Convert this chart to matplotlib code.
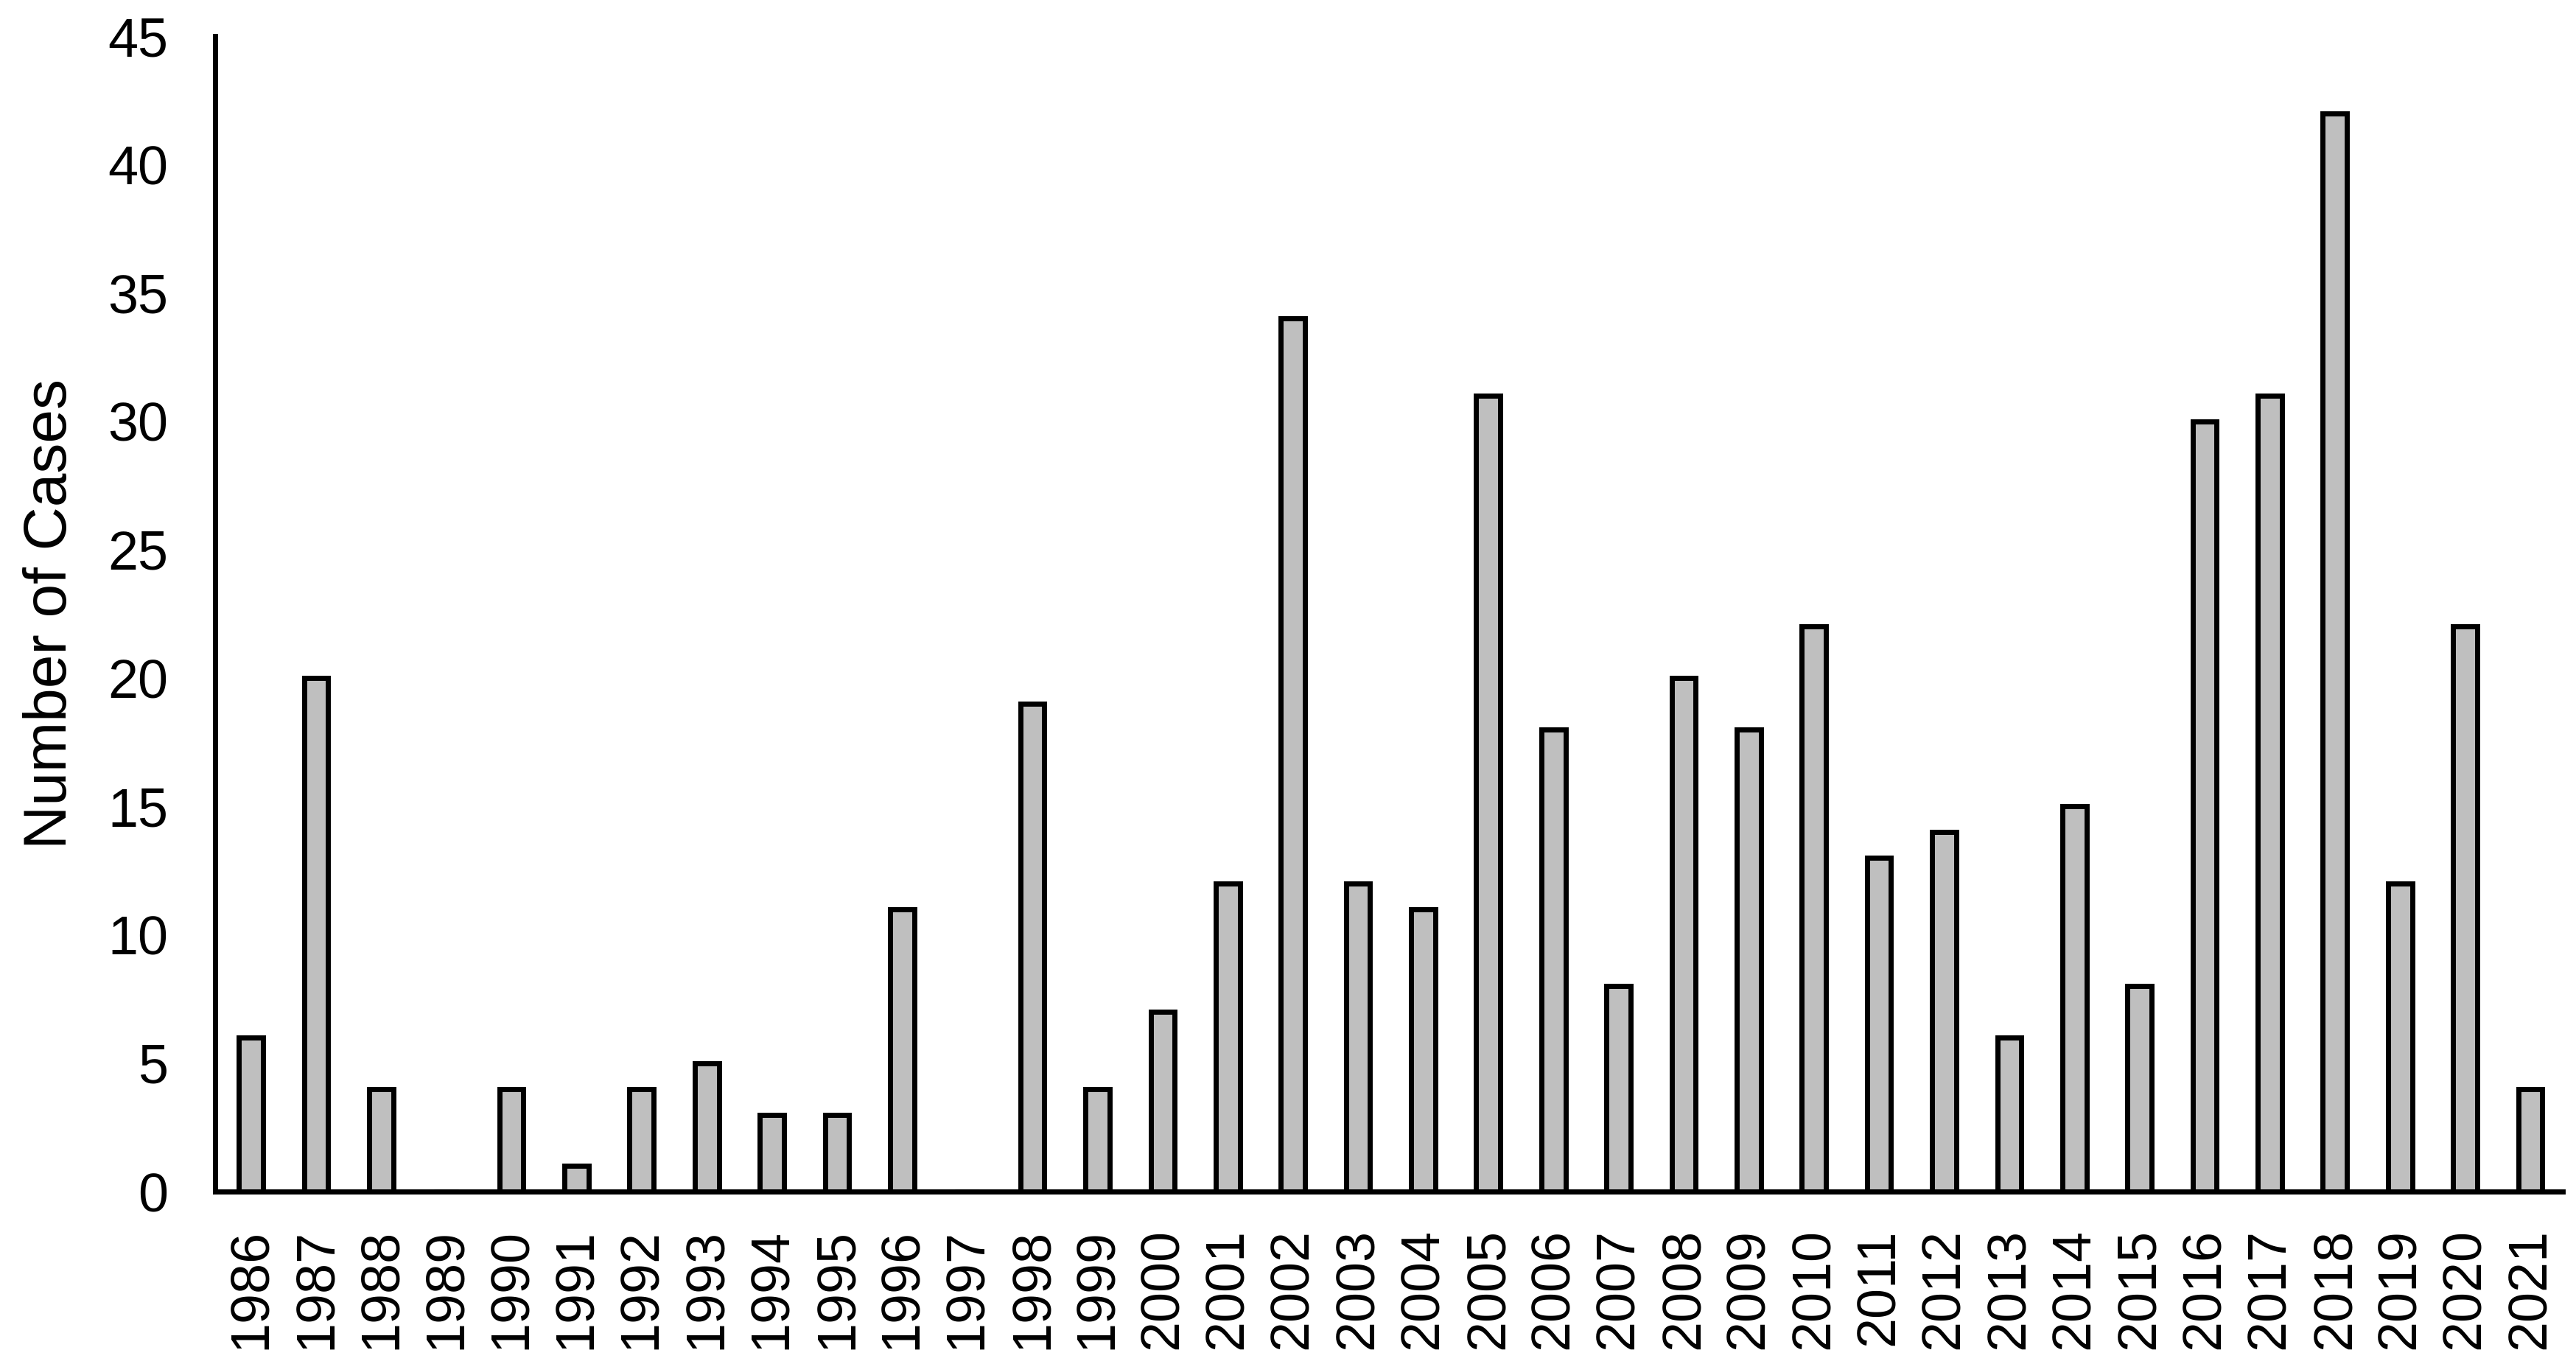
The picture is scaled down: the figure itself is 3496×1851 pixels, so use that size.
import matplotlib.pyplot as plt

# Years (x-axis categories)
years = [str(y) for y in range(1986, 2022)]

# Number of cases per year
cases = [6, 20, 4, 0, 4, 1, 4, 5, 3, 3, 11, 0, 19, 4, 7, 12, 34, 12, 11, 31,
         18, 8, 20, 18, 22, 13, 14, 6, 15, 8, 30, 31, 42, 12, 22, 4]

plt.rcParams['font.family'] = ['Liberation Sans', 'DejaVu Sans']

fig = plt.figure(figsize=(17.48, 9.255), dpi=200)
ax = fig.add_axes([0.0835, 0.1264, 0.9114, 0.8471])

x = list(range(len(years)))
ax.bar(x, cases, width=0.37, color='#BFBFBF', edgecolor='black', linewidth=2.5, zorder=2)

ax.set_xlim(-0.55, 35.5)
ax.set_ylim(0, 45)
ax.set_yticks(range(0, 46, 5))
ax.set_xticks(x)
ax.set_xticklabels(years, rotation=90)

ax.tick_params(axis='y', length=0, pad=23, labelsize=26.5)
ax.tick_params(axis='x', length=0, pad=18, labelsize=26.5)

ax.set_ylabel('Number of Cases', fontsize=29.5)
ax.yaxis.set_label_coords(-0.058, 0.5)

for side in ['top', 'right']:
    ax.spines[side].set_visible(False)
for side in ['left', 'bottom']:
    ax.spines[side].set_linewidth(2.5)
    ax.spines[side].set_zorder(3)

fig.savefig('out.png', dpi=200)
